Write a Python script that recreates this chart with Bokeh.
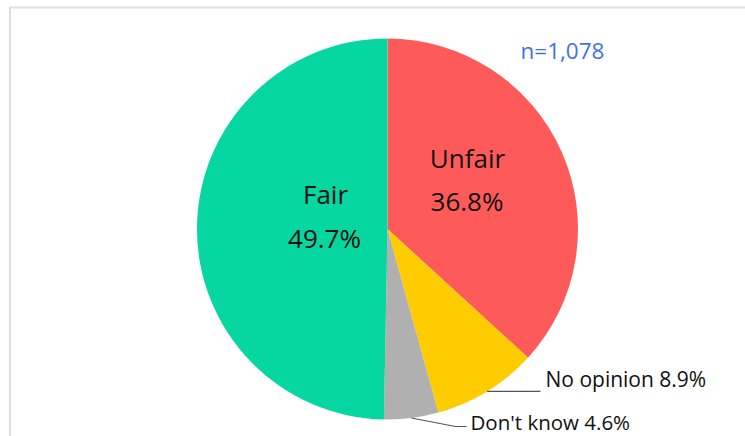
import math
from bokeh.plotting import figure
from bokeh.models import Range1d, ColumnDataSource
from bokeh.core.properties import value
from bokeh.embed import file_html
from bokeh.resources import INLINE

# ---- data ----
categories = ["Unfair", "No opinion", "Don't know", "Fair"]
percents = [36.8, 8.9, 4.6, 49.7]
colors = ["#FF5A5A", "#FFCC00", "#B0B0B0", "#06D6A0"]
sample_note = "n=1,078"

# ---- layout constants (pixels) ----
W, H = 745, 436
CX, CY = 387, 207.5          # pie center in plot coordinates (y up)
R = 190.5
FONT = "Open Sans"

p = figure(width=W, height=H, output_backend="svg", toolbar_location=None,
           x_range=Range1d(0, W), y_range=Range1d(0, H), min_border=0)
p.axis.visible = False
p.grid.visible = False
p.outline_line_color = None
p.background_fill_color = "white"
p.border_fill_color = "white"

# frame lines (top & left, as in the reference)
p.line([9, W], [429, 429], line_color="#DCE1E8", line_width=2)
p.line([9.5, 9.5], [429, 0], line_color="#D4D4D4", line_width=1.5)

# ---- wedges (clockwise from 12 o'clock) ----
total = sum(percents)
starts, ends, mids = [], [], []
cum = 0.0
for v in percents:
    a0 = math.pi / 2 - 2 * math.pi * cum / total
    cum += v
    a1 = math.pi / 2 - 2 * math.pi * cum / total
    starts.append(a0)
    ends.append(a1)
    mids.append((a0 + a1) / 2)

src = ColumnDataSource(dict(x=[CX] * len(percents), y=[CY] * len(percents),
                            start=starts, end=ends, color=colors))
p.wedge(x="x", y="y", radius=R, start_angle="start", end_angle="end",
        direction="clock", fill_color="color", line_color=None, source=src)

# ---- inside labels (two lines) ----
inside = {"Unfair": [(80, 71), (79.5, 28.5)], "Fair": [(-62, 35), (-63, -9)]}
for cat, offs in inside.items():
    i = categories.index(cat)
    texts = [cat, f"{percents[i]:.1f}%"]
    for t, (dx, dy) in zip(texts, offs):
        p.text(x=[CX + dx], y=[CY + dy], text=[t], text_align="center",
               text_baseline="middle", text_font=value(FONT),
               text_font_size="26px", text_color="#111111")

# ---- outside labels with leader lines ----
# No opinion
i = categories.index("No opinion")
sx, sy = CX + R * math.cos(mids[i]), CY + R * math.sin(mids[i])
p.line([sx, 540], [sy, sy], line_color="#555555", line_width=1.2)
p.text(x=[545], y=[58], text=[f"No opinion {percents[i]:.1f}%"],
       text_align="left", text_baseline="middle", text_font=value(FONT),
       text_font_size="21px", text_color="#111111")

# Don't know
i = categories.index("Don't know")
sx, sy = CX + R * math.cos(mids[i]), CY + R * math.sin(mids[i])
p.line([sx, 455, 466], [sy, 10, 10], line_color="#555555", line_width=1.2)
p.text(x=[470], y=[15], text=[f"Don't know {percents[i]:.1f}%"],
       text_align="left", text_baseline="middle", text_font=value(FONT),
       text_font_size="20.5px", text_color="#111111")

# sample size note
p.text(x=[520], y=[386], text=[sample_note], text_align="left",
       text_baseline="middle", text_font=value(FONT), text_font_size="22.5px",
       text_color="#4470EE")

open("out.html", "w").write(file_html(p, INLINE))
